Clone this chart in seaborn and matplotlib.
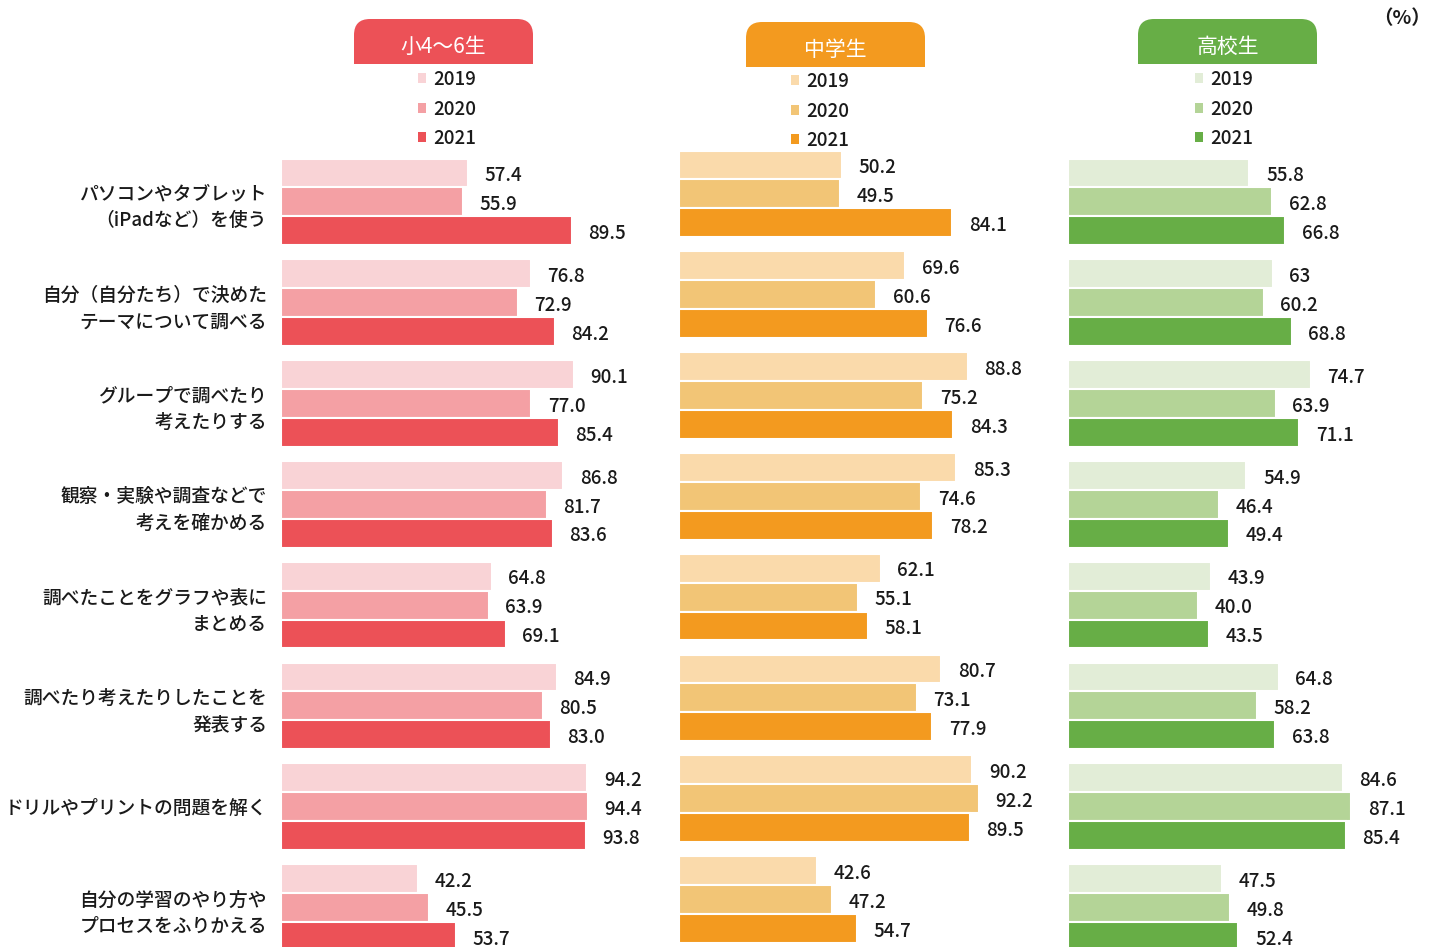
import matplotlib
matplotlib.use("Agg")
import matplotlib.pyplot as plt
import seaborn as sns
import pandas as pd
from matplotlib.patches import FancyBboxPatch, Rectangle, Patch

# ---------------- data ----------------
items = [
    "パソコンやタブレット\n（iPadなど）を使う",
    "自分（自分たち）で決めた\nテーマについて調べる",
    "グループで調べたり\n考えたりする",
    "観察・実験や調査などで\n考えを確かめる",
    "調べたことをグラフや表に\nまとめる",
    "調べたり考えたりしたことを\n発表する",
    "ドリルやプリントの問題を解く",
    "自分の学習のやり方や\nプロセスをふりかえる",
]
years = ["2019", "2020", "2021"]
groups = ["小4～6生", "中学生", "高校生"]

elem_2019 = ["57.4", "76.8", "90.1", "86.8", "64.8", "84.9", "94.2", "42.2"]
elem_2020 = ["55.9", "72.9", "77.0", "81.7", "63.9", "80.5", "94.4", "45.5"]
elem_2021 = ["89.5", "84.2", "85.4", "83.6", "69.1", "83.0", "93.8", "53.7"]

jhs_2019 = ["50.2", "69.6", "88.8", "85.3", "62.1", "80.7", "90.2", "42.6"]
jhs_2020 = ["49.5", "60.6", "75.2", "74.6", "55.1", "73.1", "92.2", "47.2"]
jhs_2021 = ["84.1", "76.6", "84.3", "78.2", "58.1", "77.9", "89.5", "54.7"]

hs_2019 = ["55.8", "63", "74.7", "54.9", "43.9", "64.8", "84.6", "47.5"]
hs_2020 = ["62.8", "60.2", "63.9", "46.4", "40.0", "58.2", "87.1", "49.8"]
hs_2021 = ["66.8", "68.8", "71.1", "49.4", "43.5", "63.8", "85.4", "52.4"]

series = [
    [elem_2019, elem_2020, elem_2021],
    [jhs_2019, jhs_2020, jhs_2021],
    [hs_2019, hs_2020, hs_2021],
]

palettes = [
    ["#F9D3D6", "#F4A0A4", "#EC5157"],
    ["#FADAAB", "#F2C576", "#F39A1F"],
    ["#E2EDD7", "#B4D497", "#67AE46"],
]
header_colors = ["#EC5157", "#F39A1F", "#67AE46"]

# ---------------- layout (pixels) ----------------
W, H = 1437, 947
sns.set_style("white")
plt.rcParams["font.family"] = ["Noto Sans CJK JP", "DejaVu Sans"]
NUM_FONT = ["Liberation Sans Narrow", "Noto Sans CJK JP", "DejaVu Sans"]
TXT = "#1a1a1a"

fig = plt.figure(figsize=(W / 100, H / 100), dpi=100)

def px_axes(left, top, width, height):
    return fig.add_axes([left / W, 1 - (top + height) / H, width / W, height / H])

PITCH = 100.8
Y_TOP, Y_BOT = -0.515, 7.6
ax_h = (Y_BOT - Y_TOP) * PITCH
X_MAX = 100
ax_w = X_MAX * 3.25

panel_left = [281, 679, 1068]
panel_top = [150, 142, 150]
header_box = [(354, 19), (746, 22), (1138, 19)]
legend_anchor = [(418, 70), (791, 72), (1195, 70)]

ov = fig.add_axes([0, 0, 1, 1], zorder=5)
ov.set_xlim(0, W)
ov.set_ylim(H, 0)
ov.axis("off")
ov.patch.set_alpha(0)

for gi in range(3):
    rows = []
    for yi, yr in enumerate(years):
        for ii, it in enumerate(items):
            rows.append({"item": it, "year": yr, "value": float(series[gi][yi][ii])})
    df = pd.DataFrame(rows)

    ax = px_axes(panel_left[gi], panel_top[gi], ax_w, ax_h)
    sns.barplot(data=df, x="value", y="item", hue="year", hue_order=years,
                order=items, palette=palettes[gi], width=0.86, orient="h",
                saturation=1, edgecolor="white", linewidth=1.5, ax=ax,
                legend=False)
    ax.set_xlim(0, X_MAX)
    ax.set_ylim(Y_BOT, Y_TOP)
    ax.set_xlabel("")
    ax.set_ylabel("")
    ax.set_xticks([])
    for s in ax.spines.values():
        s.set_visible(False)
    ax.patch.set_alpha(0)
    if gi == 0:
        ax.tick_params(axis="y", length=0, pad=10, labelsize=13.5, labelcolor=TXT)
        for t in ax.get_yticklabels():
            t.set_linespacing(1.5)
            t.set_fontweight("medium")
    else:
        ax.set_yticks([])

    for yi, cont in enumerate(ax.containers):
        anns = ax.bar_label(cont, labels=series[gi][yi], padding=12, fontsize=13.5,
                            color=TXT, family=NUM_FONT, fontweight="medium")
        for a in anns:
            a.xyann = (12, -2)

    # header tab
    hx, hy = header_box[gi]
    hw, hh = 179, 45
    ov.add_patch(FancyBboxPatch((hx, hy), hw, hh,
                                boxstyle="round,pad=0,rounding_size=16",
                                facecolor=header_colors[gi], edgecolor="none"))
    ov.add_patch(Rectangle((hx, hy + 20), hw, hh - 20,
                           facecolor=header_colors[gi], edgecolor="none"))
    ov.text(hx + hw / 2, hy + hh / 2 + 5, groups[gi], color="white",
            fontsize=15, ha="center", va="center")

    # legend
    handles = [Patch(facecolor=c, edgecolor="none") for c in palettes[gi]]
    ax.legend(handles, years, loc="upper left",
              bbox_to_anchor=legend_anchor[gi], bbox_transform=ov.transData,
              frameon=False, borderpad=0, borderaxespad=0,
              handlelength=0.45, handleheight=0.45, handletextpad=0.35,
              labelspacing=0.56,
              prop={"family": NUM_FONT, "size": 13.5, "weight": "medium"},
              labelcolor=TXT)

ov.text(1402, 19, "（%）", fontsize=14, fontweight="bold", ha="center",
        va="center", color=TXT)

fig.savefig("out.png", dpi=100)
